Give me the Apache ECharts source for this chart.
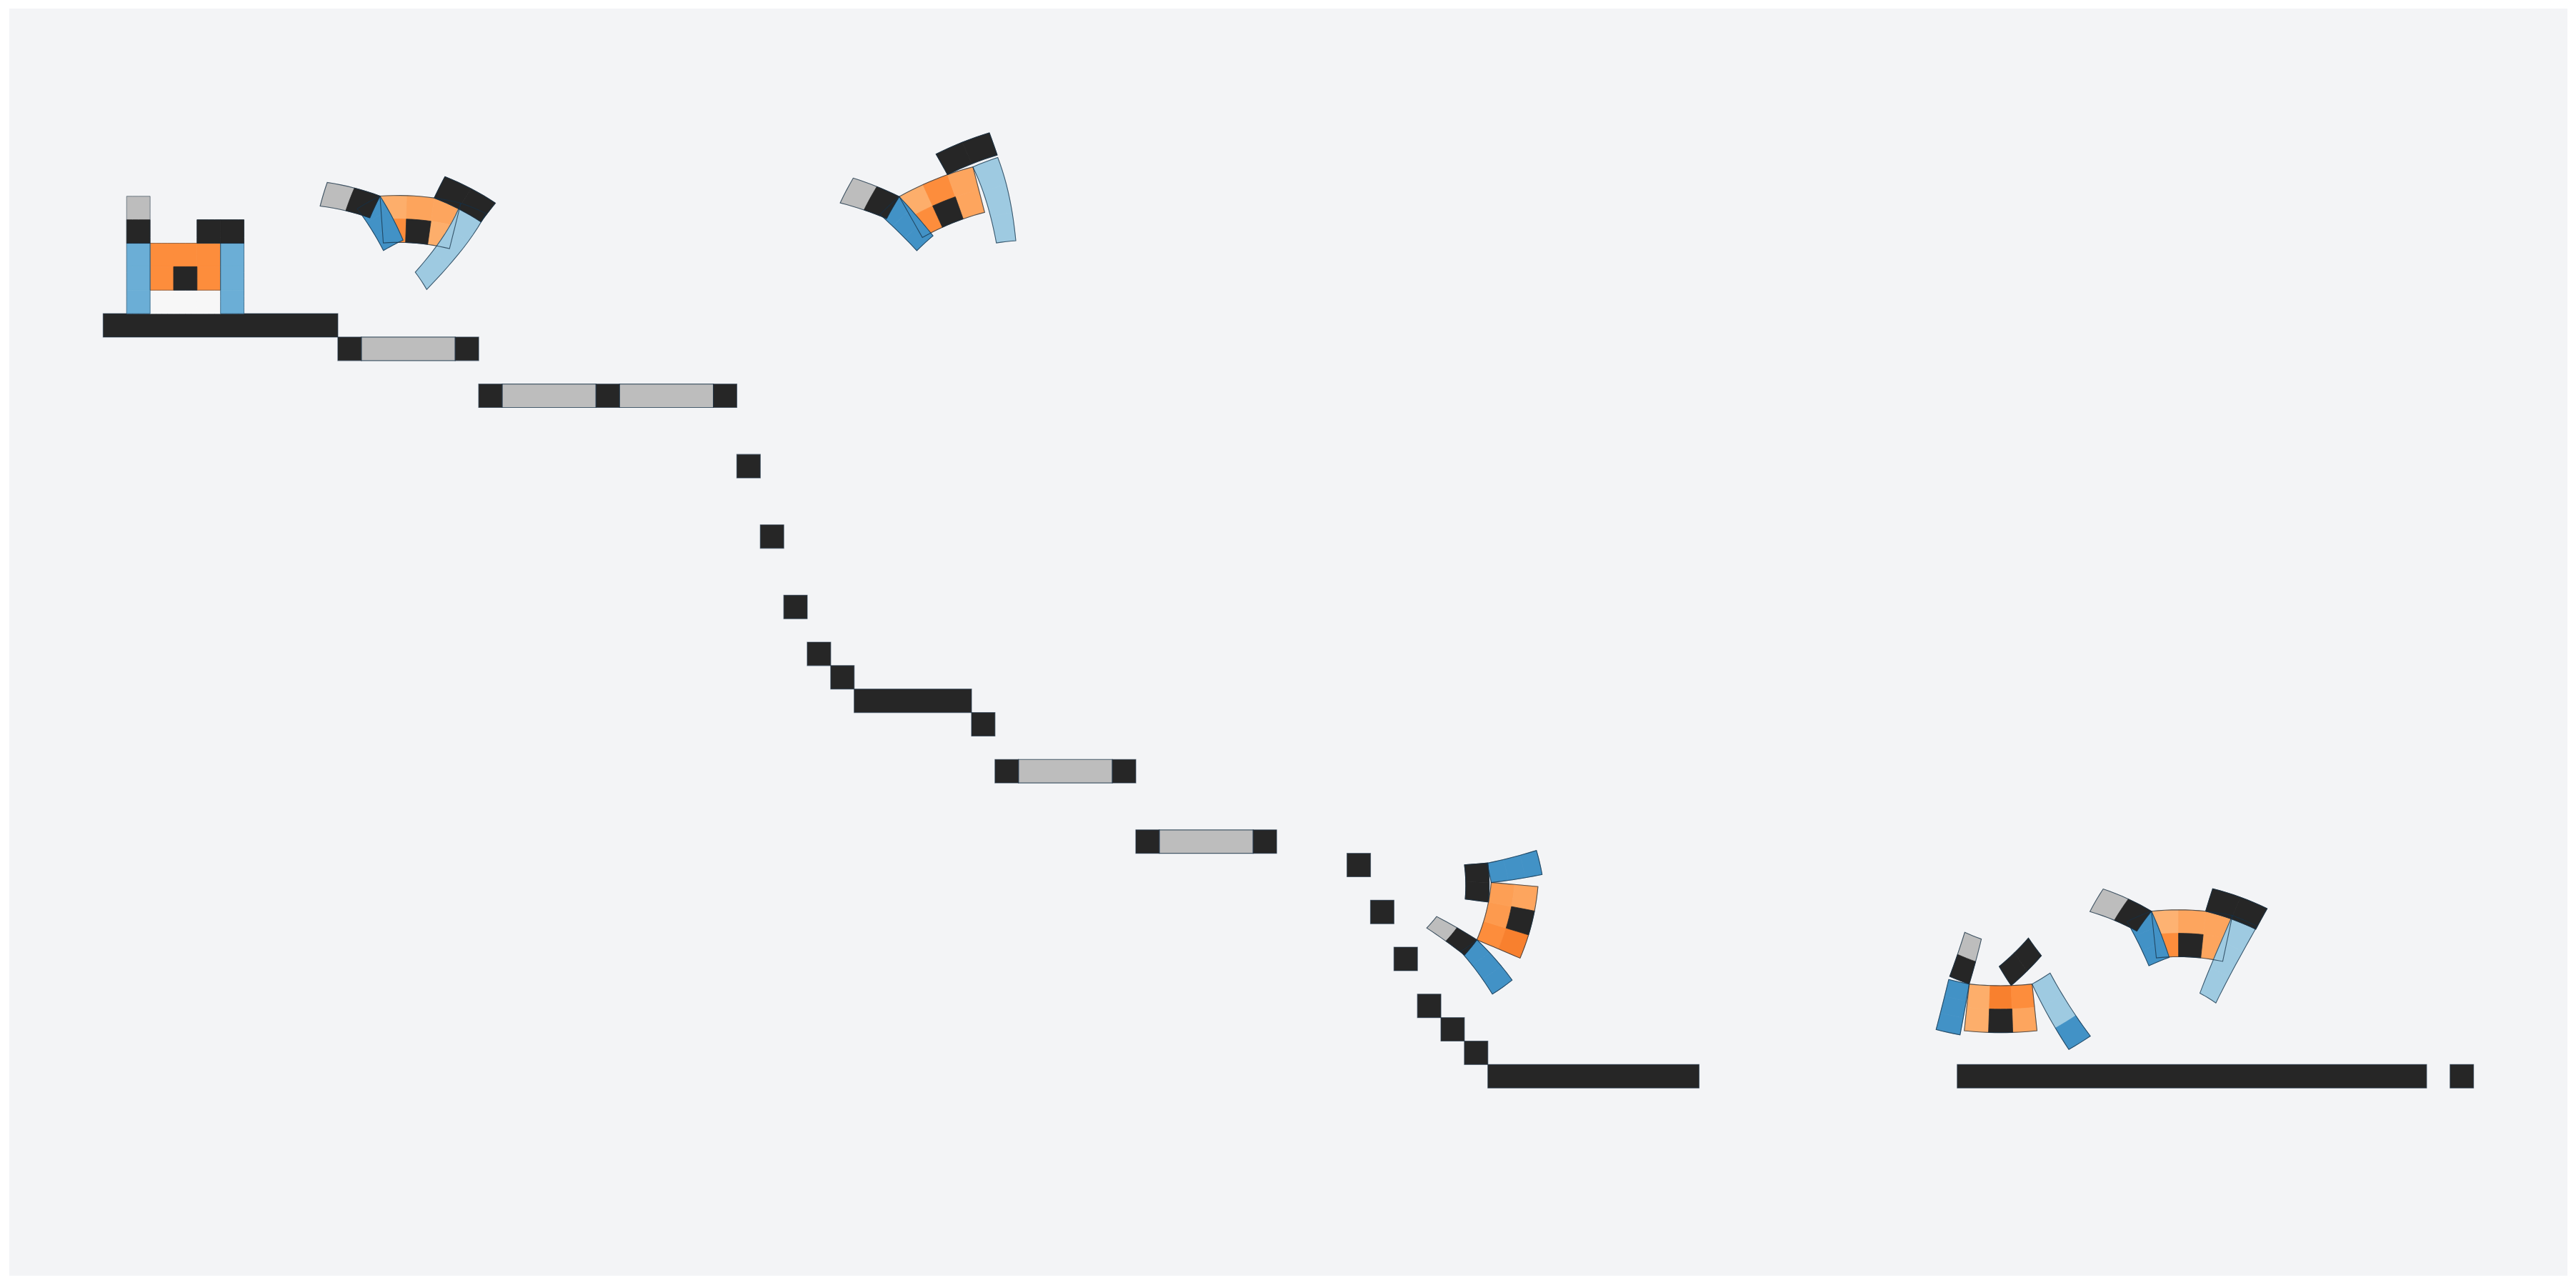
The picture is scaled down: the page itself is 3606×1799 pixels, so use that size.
<!DOCTYPE html>
<html>
<head>
<meta charset="utf-8">
<script src="https://cdn.jsdelivr.net/npm/echarts@6/dist/echarts.min.js"></script>
<style>
    html, body { margin: 0; padding: 0; background: #ffffff; }
    #main { width: 3606px; height: 1799px; }
</style>
</head>
<body>
<div id="main"></div>
<script>
// board size in cells
var COLS = 109, ROWS = 54;

// black stair stones: [col, row, length]
var stones = [
    [4, 13, 10], [14, 14, 1], [19, 14, 1], [20, 16, 1], [25, 16, 1], [30, 16, 1],
    [31, 19, 1], [32, 22, 1], [33, 25, 1], [34, 27, 1], [35, 28, 1], [36, 29, 5],
    [41, 30, 1], [42, 32, 1], [47, 32, 1], [48, 35, 1], [53, 35, 1],
    [57, 36, 1], [58, 38, 1], [59, 40, 1], [60, 42, 1], [61, 43, 1], [62, 44, 1],
    [63, 45, 9], [83, 45, 20], [104, 45, 1]
];
// grey logs between stones: [col, row, length]
var logs = [[15, 14, 4], [21, 16, 4], [26, 16, 4], [43, 32, 4], [49, 35, 4]];

// the cat sprite, 5x5 pixels
// T tail tip, K tail, E ears, Y eye, L/R legs, B body, W belly
var catPixels = ['T....', 'K..EE', 'LBBBR', 'LBYBR', 'LWWWR'];
// sprite parts for outlines: [code, u0, v0, u1, v1]
var catParts = [['B', 1, 2, 4, 4], ['L', 0, 2, 1, 5], ['R', 4, 2, 5, 5], ['T', 0, 0, 1, 2], ['E', 3, 1, 5, 2]];

// cat poses (one entry per cat): eye centre on the board, body turn and bend,
// then the turn of tail, legs and ears relative to the body (degrees)
var catEyeCol = [7.5, 17.40, 40.01, 64.39, 84.85, 92.93];
var catEyeRow = [11.5, 9.50, 8.67, 38.85, 43.14, 39.92];
var catTurn   = [0, 5, -22, -76, 0, 3];
var catBend   = [0, 6, 5, -6, -4, 6];
var tailTurn  = [0, -62, -31, 11, 12, -49];
var legLTurn  = [0, -25, -12, 24, 4, -16];
var legLLen   = [3, 2.1, 2.2, 2.3, 2.2, 2.1];
var legRTurn  = [0, 6, -10, -13, -21, 10];
var legRCurl  = [0, 10, 4, 0, 0, 2];
var legRLen   = [3, 3.6, 3.4, 2.2, 3.2, 3.6];
var earTurn   = [0, 15, -8, -5, -35, 9];

var INK = '#262626', STROKE = 'rgba(22,48,70,0.75)';
var RAD = Math.PI / 180;

// per-cat colours
var catLook = [
    { L: '#6baed6', R: '#6baed6', body: ['#fd8d3c', '#fd8d3c', '#fd8d3c', '#fd8d3c', '#fd8d3c'] },
    { L: '#4292c6', R: '#9ecae1', body: ['#fdae6b', '#fda45c', '#fda55e', '#fd8d3c', '#fdae6b'] },
    { L: '#4292c6', R: '#9ecae1', body: ['#fdae6b', '#fd8d3c', '#fda55e', '#fd8d3c', '#fda55e'] },
    { L: '#4292c6', R: '#4292c6', body: ['#fd8d3c', '#fd9a4e', '#fd9f55', '#f8802e', '#fda55e'] },
    { L: '#4292c6', R: '#9ecae1', body: ['#fdae6b', '#f8802e', '#fd8d3c', '#fdae6b', '#fda55e'], foot: '#4292c6' },
    { L: '#4292c6', R: '#9ecae1', body: ['#fdb272', '#fda55e', '#fda55e', '#fd8d3c', '#fda55e'] }
];

// draw order of the sprite parts
var layerOrder = 'WBYLRTKE';

var catCells = [];
var catEdges = [];
for (var k = 0; k < catEyeCol.length; k++) {
    for (var li = 0; li < layerOrder.length; li++) {
        for (var r = 0; r < catPixels.length; r++) {
            for (var c = 0; c < catPixels[r].length; c++) {
                var ch = catPixels[r].charAt(c);
                if (ch !== layerOrder.charAt(li)) continue;
                if (ch === 'W' && k !== 0) continue;
                catCells.push({ value: [catEyeCol[k], catEyeRow[k], k, c, r], code: ch });
            }
        }
    }
    for (var pi = 0; pi < catParts.length; pi++) {
        var part = catParts[pi];
        catEdges.push({ value: [catEyeCol[k], catEyeRow[k], k, part[1], part[2], part[3], part[4]], code: part[0] });
    }
}

function cellColor(k, code, c, r) {
    var look = catLook[k];
    if (code === 'T') return '#bdbdbd';
    if (code === 'K' || code === 'E' || code === 'Y') return INK;
    if (code === 'W') return '#f7f7f7';
    if (code === 'L') return look.L;
    if (code === 'R') return (r === 4 && look.foot) ? look.foot : look.R;
    if (r === 2) return look.body[c - 1];
    return c === 1 ? look.body[3] : look.body[4];
}

// a limb hanging from a pivot: stretched by len/3, turned by a, curled by kap per cell
function limb(pu, pv, a, kap, len, u, v) {
    var s = (v - pv) * len / 3, t = u - pu, cx, cy;
    if (Math.abs(kap) < 1e-9) {
        cx = -s * Math.sin(a);
        cy = s * Math.cos(a);
    } else {
        cx = (Math.cos(a + kap * s) - Math.cos(a)) / kap;
        cy = (Math.sin(a + kap * s) - Math.sin(a)) / kap;
    }
    var ang = a + kap * s;
    return [pu + cx + t * Math.cos(ang), pv + cy + t * Math.sin(ang)];
}

// sprite point -> board point
function warp(k, code, u, v) {
    var p;
    if (code === 'T' || code === 'K') p = limb(1, 2, tailTurn[k] * RAD, 0, 3, u, v);
    else if (code === 'L') p = limb(1, 2, legLTurn[k] * RAD, 0, legLLen[k], u, v);
    else if (code === 'R') p = limb(4, 2, legRTurn[k] * RAD, legRCurl[k] * RAD, legRLen[k], u, v);
    else if (code === 'E') p = limb(3, 2, earTurn[k] * RAD, 0, 3, u, v);
    else p = [u, v];

    var bend = catBend[k] * RAD, turn = catTurn[k] * RAD, lx, ly;
    if (bend === 0) {
        lx = p[0] - 2.5;
        ly = p[1] - 3.5;
    } else {
        var R = 1 / bend;
        var phi = (p[0] - 2.5) * bend;
        var rho = R - (p[1] - 3.5);
        lx = rho * Math.sin(phi);
        ly = R - rho * Math.cos(phi);
    }
    return [
        catEyeCol[k] + lx * Math.cos(turn) - ly * Math.sin(turn),
        catEyeRow[k] + lx * Math.sin(turn) + ly * Math.cos(turn)
    ];
}

// boundary of a sprite rectangle, traced through the warp
function ring(k, code, u0, v0, u1, v1) {
    var pts = [], i, n;
    n = Math.round((u1 - u0) * 4);
    for (i = 0; i < n; i++) pts.push(warp(k, code, u0 + (u1 - u0) * i / n, v0));
    n = Math.round((v1 - v0) * 4);
    for (i = 0; i < n; i++) pts.push(warp(k, code, u1, v0 + (v1 - v0) * i / n));
    n = Math.round((u1 - u0) * 4);
    for (i = 0; i < n; i++) pts.push(warp(k, code, u1 - (u1 - u0) * i / n, v1));
    n = Math.round((v1 - v0) * 4);
    for (i = 0; i < n; i++) pts.push(warp(k, code, u0, v1 - (v1 - v0) * i / n));
    return pts;
}

function blockItem(fill, stroke) {
    return function (params, api) {
        var p0 = api.coord([api.value(0), api.value(1)]);
        var p1 = api.coord([api.value(0) + api.value(2), api.value(1) + 1]);
        return {
            type: 'rect',
            shape: { x: p0[0], y: p0[1], width: p1[0] - p0[0], height: p1[1] - p0[1] },
            style: { fill: fill, stroke: stroke, lineWidth: 1.2 }
        };
    };
}

function catItem(params, api) {
    var k = api.value(2), c = api.value(3), r = api.value(4);
    var code = catCells[params.dataIndex].code;
    var fill = cellColor(k, code, c, r);
    return {
        type: 'polygon',
        shape: { points: ring(k, code, c, r, c + 1, r + 1).map(function (p) { return api.coord(p); }) },
        style: { fill: fill, stroke: fill, lineWidth: 0.8 }
    };
}

function edgeItem(params, api) {
    var k = api.value(2);
    var code = catEdges[params.dataIndex].code;
    var pts = ring(k, code, api.value(3), api.value(4), api.value(5), api.value(6));
    return {
        type: 'polygon',
        shape: { points: pts.map(function (p) { return api.coord(p); }) },
        style: { fill: null, stroke: STROKE, lineWidth: k === 0 ? 0.6 : 1.1 }
    };
}

var chart = echarts.init(document.getElementById('main'));

var option = {
    backgroundColor: '#ffffff',
    animation: false,
    grid: {
        left: 13, top: 12, width: 3581, height: 1774,
        show: true, backgroundColor: '#f3f4f6', borderWidth: 0
    },
    xAxis: { type: 'value', min: 0, max: COLS, show: false },
    yAxis: { type: 'value', min: 0, max: ROWS, inverse: true, show: false },
    series: [
        {
            type: 'custom',
            name: 'logs',
            renderItem: blockItem('#bdbdbd', STROKE),
            encode: { x: 0, y: 1 },
            data: logs
        },
        {
            type: 'custom',
            name: 'stones',
            renderItem: blockItem(INK, 'rgba(30,50,70,0.6)'),
            encode: { x: 0, y: 1 },
            data: stones
        },
        {
            type: 'custom',
            name: 'cats',
            renderItem: catItem,
            encode: { x: 0, y: 1 },
            data: catCells,
            z: 2
        },
        {
            type: 'custom',
            name: 'cat outlines',
            renderItem: edgeItem,
            encode: { x: 0, y: 1 },
            data: catEdges,
            z: 3
        }
    ]
};

chart.setOption(option);
</script>
</body>
</html>
